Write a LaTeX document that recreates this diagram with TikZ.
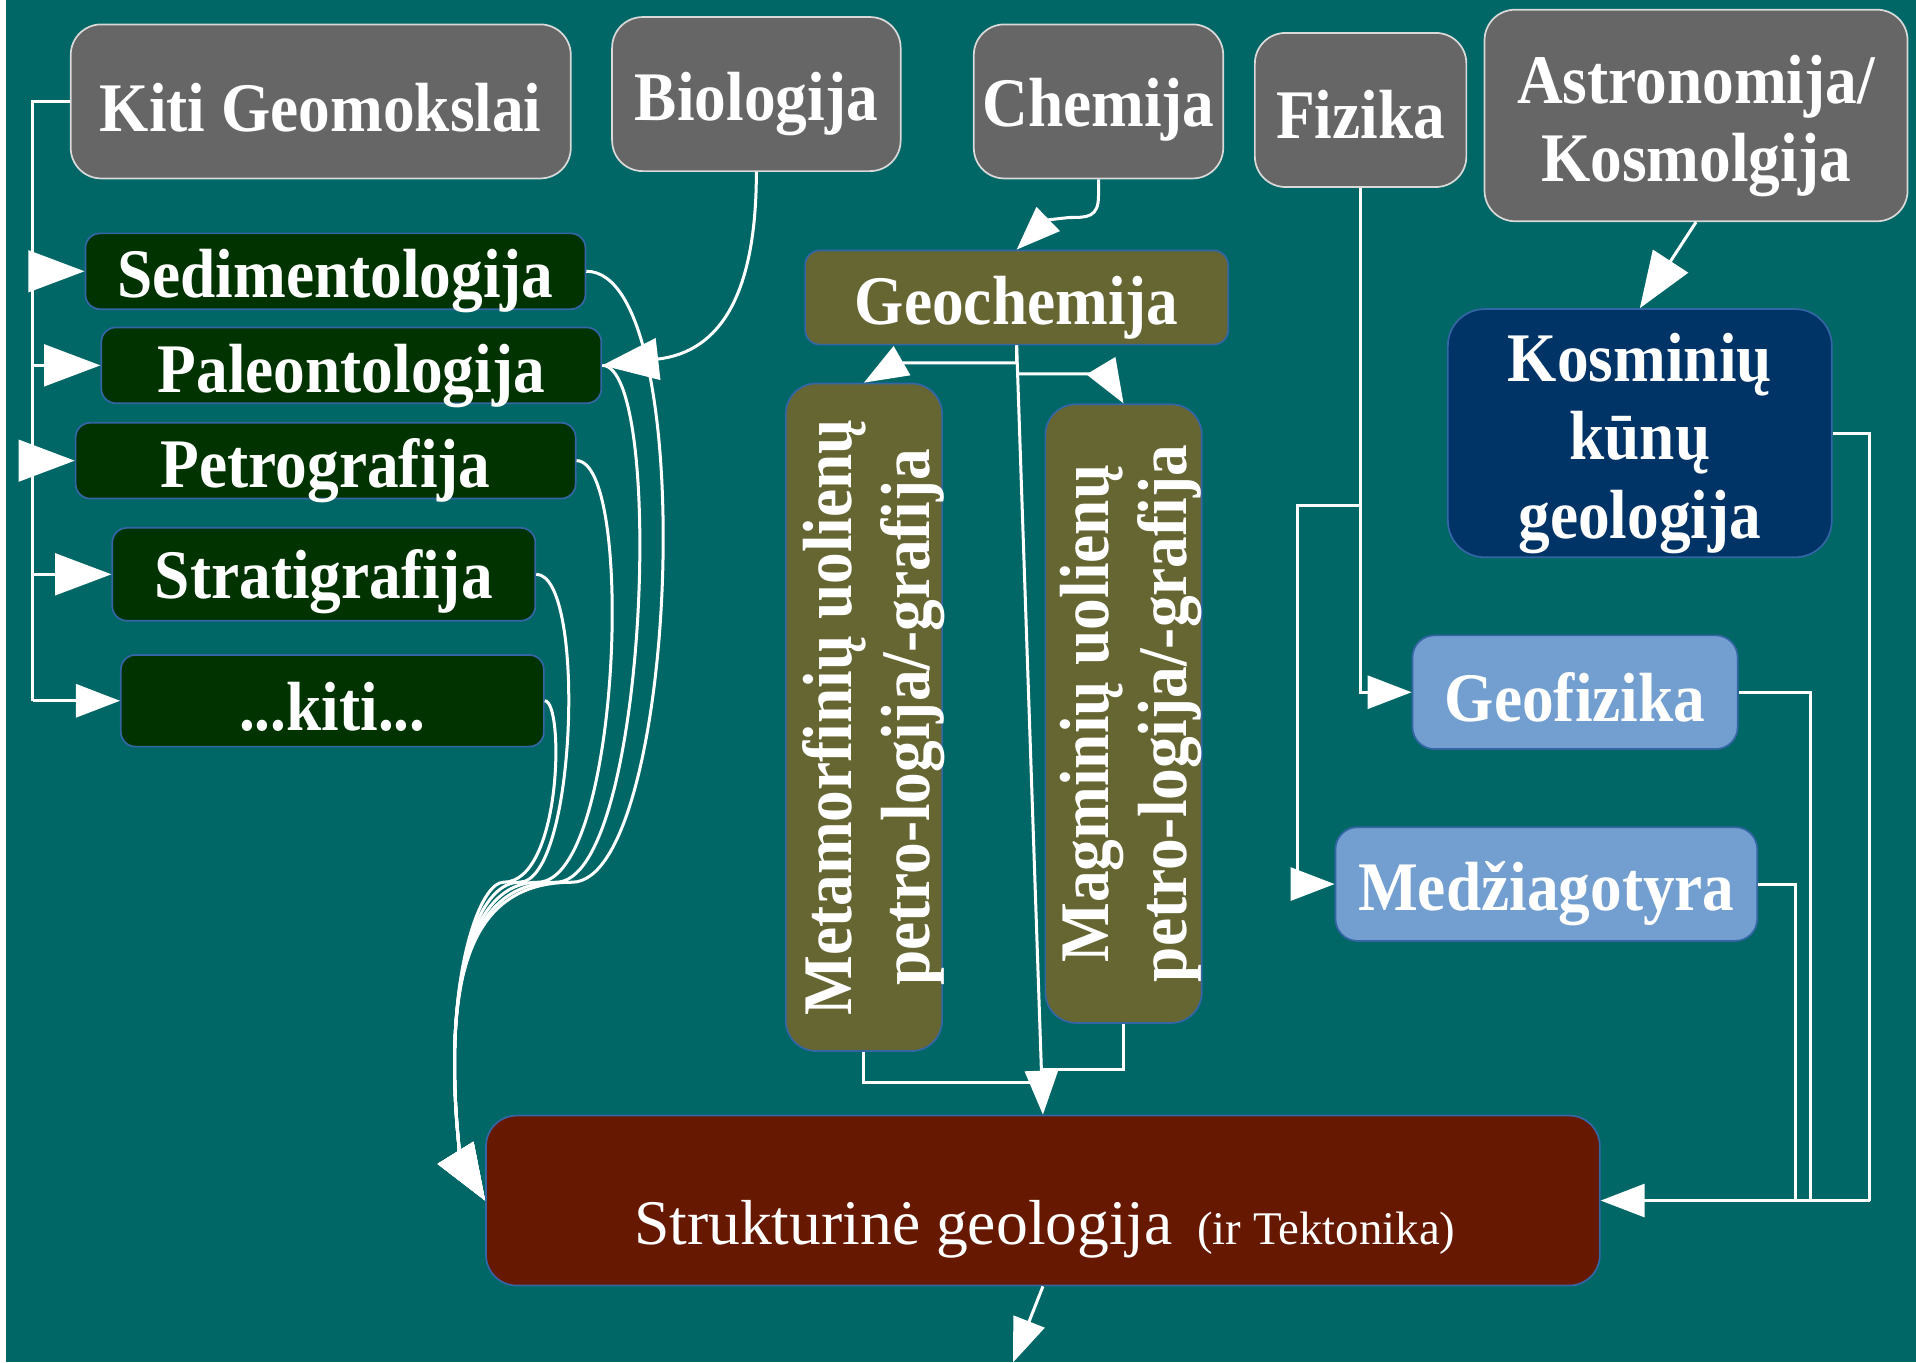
\documentclass[tikz,border=0pt]{standalone}
\usepackage{fontspec}
\setmainfont{Liberation Serif}
\newfontfamily\headfont[FakeStretch=0.91]{Liberation Serif}
\usetikzlibrary{arrows.meta}

\definecolor{bgteal}{RGB}{0,102,102}
\definecolor{boxgray}{RGB}{102,102,102}
\definecolor{boxgreen}{RGB}{0,51,0}
\definecolor{boxolive}{RGB}{102,102,51}
\definecolor{boxnavy}{RGB}{0,51,102}
\definecolor{boxblue}{RGB}{114,159,207}
\definecolor{boxred}{RGB}{102,25,0}
\definecolor{edgeblue}{RGB}{52,101,164}

% text set a little below the middle of its box
\newcommand{\lowered}[2][0.08cm]{\raisebox{-#1}[\height][\depth]{#2}}
\newcommand{\lines}[1]{\begin{tabular}{@{}c@{}}#1\end{tabular}}

\begin{document}
\begin{tikzpicture}[x=0.01cm, y=-0.01cm,
    box/.style={draw=edgeblue, line width=0.4pt, text=white, inner sep=0pt, align=center,
      font=\headfont\bfseries\fontsize{16.2}{18.2}\selectfont},
    topbox/.style={box, fill=boxgray, draw=white!85!black, rounded corners=0.25cm},
    subbox/.style={box, fill=boxgreen, rounded corners=0.12cm},
    chembox/.style={box, fill=boxolive, rounded corners=0.12cm},
    physbox/.style={box, fill=boxblue, rounded corners=0.18cm},
    wire/.style={draw=white, line width=0.7pt},
    arr/.style={wire, -{Triangle[length=0.46cm, width=0.34cm]}},
    arrs/.style={wire, -{Triangle[length=0.36cm, width=0.27cm]}}]

    % background
    \fill[white] (0,0) rectangle (1568,1115);
    \fill[bgteal] (5,0) rectangle (1568,1115);
    \useasboundingbox (0,0) rectangle (1568,1115);

    % sciences on top
    \node[topbox, minimum width=4.09cm, minimum height=1.26cm] (kiti) at (262.5,83) {\lowered[0.05cm]{Kiti Geomokslai}};
    \node[topbox, minimum width=2.36cm, minimum height=1.26cm] (bio) at (619,77) {\lowered{Biologija}};
    \node[topbox, minimum width=2.04cm, minimum height=1.26cm] (chem) at (899,83) {\lowered[0.07cm]{Chemija}};
    \node[topbox, minimum width=1.73cm, minimum height=1.26cm] (fiz) at (1113.5,90) {\lowered[0.04cm]{Fizika}};
    \node[topbox, minimum width=3.46cm, minimum height=1.73cm] (astro) at (1388,94.5)
        {\lowered[0.09cm]{\lines{Astronomija/\\Kosmolgija}}};

    % left column
    \node[subbox, minimum width=4.09cm, minimum height=0.62cm] (sed) at (274.5,222) {\lowered{Sedimentologija}};
    \node[subbox, minimum width=4.09cm, minimum height=0.62cm] (pal) at (287.5,299) {\lowered[0.09cm]{Paleontologija}};
    \node[subbox, minimum width=4.09cm, minimum height=0.62cm] (petr) at (266.5,377) {\lowered{Petrografija}};
    \node[subbox, minimum width=3.46cm, minimum height=0.76cm] (strat) at (265,470) {\lowered[0.06cm]{Stratigrafija}};
    \node[subbox, minimum width=3.46cm, minimum height=0.75cm] (kt) at (272,573.5) {\lowered[0.05cm]{...kiti...}};

    % chemistry
    \node[chembox, minimum width=3.46cm, minimum height=0.77cm] (geoch) at (832,243.5) {\lowered{Geochemija}};
    \node[chembox, rounded corners=0.25cm, minimum width=1.26cm, minimum height=5.46cm] (meta) at (707,587)
        {\rotatebox{90}{\lowered[0.09cm]{\lines{Metamorfinių uolienų\\petro-logija/-grafija}}}};
    \node[chembox, rounded corners=0.25cm, minimum width=1.25cm, minimum height=5.06cm] (mag) at (919.5,584)
        {\rotatebox{90}{\lowered[0.07cm]{\lines{Magminių uolienų\\petro-logija/-grafija}}}};

    % physics and space
    \node[box, fill=boxnavy, rounded corners=0.3cm, minimum width=3.14cm, minimum height=2.03cm] (kosm) at (1342,354.5)
        {\lowered[0.09cm]{\lines{Kosminių\\kūnų\\geologija}}};
    \node[physbox, minimum width=2.66cm, minimum height=0.93cm] (gfiz) at (1289,566.5) {\lowered[0.04cm]{Geofizika}};
    \node[physbox, minimum width=3.45cm, minimum height=0.93cm] (medz) at (1265.5,723.5) {\lowered{Medžiagotyra}};

    % structural geology
    \node[box, fill=boxred, rounded corners=0.25cm, minimum width=9.11cm, minimum height=1.39cm] (strk) at (853.5,982.5) {};
    \node[text=white, font=\fontsize{14.8}{17}\selectfont] (strktxt) at (855,1006)
        {Strukturinė geologija\hspace{0.2cm}{\fontsize{10.9}{13}\selectfont (ir Tektonika)}};

    % Kiti Geomokslai tree
    \coordinate (t0) at (27,83);
    \coordinate (t1) at (27,222);
    \coordinate (t2) at (27,299);
    \coordinate (t3) at (27,377);
    \coordinate (t4) at (27,470);
    \coordinate (t5) at (27,573.5);
    \draw[wire] (kiti.west) -- (t0) -- (t5);
    \draw[arr] (t1) -- (sed.west);
    \draw[arr] (t2) -- (pal.west);
    \draw[arr] (t3) -- (petr.west);
    \draw[arr] (t4) -- (strat.west);
    \draw[arrs] (t5) -- (kt.west);

    \draw[arr] (bio.south) .. controls (619,240) and (590,288) .. (pal.east);

    % bundle into structural geology
    \draw[arr] (sed.east) .. controls (575,222) and (555,722) .. (468,722)
        .. controls (395,722) and (372,780) .. (372,870) .. controls (372,930) and (380,955) .. (strk.west);
    \draw[arr] (pal.east) .. controls (545,299) and (530,722) .. (455,722)
        .. controls (395,722) and (372,780) .. (372,870) .. controls (372,930) and (380,955) .. (strk.west);
    \draw[arr] (petr.east) .. controls (520,377) and (508,722) .. (440,722)
        .. controls (395,722) and (372,780) .. (372,870) .. controls (372,930) and (380,955) .. (strk.west);
    \draw[arr] (strat.east) .. controls (480,470) and (472,722) .. (425,722)
        .. controls (395,722) and (372,780) .. (372,870) .. controls (372,930) and (380,955) .. (strk.west);
    \draw[arr] (kt.east) .. controls (462,573.5) and (460,722) .. (412,722)
        .. controls (395,722) and (372,780) .. (372,870) .. controls (372,930) and (380,955) .. (strk.west);

    % chemistry links
    \draw[arrs] (chem.south) -- (899,160) .. controls (899,178) and (890,178) .. (875,178) -- (857,180) -- (geoch.north);
    \draw[arrs] (geoch.south) -- (832,297) -- (735,297) -- (meta.north);
    \draw[arrs] (832.7,306) -- (905,306) -- (mag.north);
    \draw[arrs] (geoch.south) -- (strk.north);
    \draw[wire] (meta.south) -- (707,886) -- (852,886);
    \draw[wire] (mag.south) -- (919.5,875) -- (852,875);

    % physics links
    \draw[arrs] (fiz.south) -- (1113.5,566.5) -- (gfiz.west);
    \draw[arrs] (1113.5,414) -- (1062,414) -- (1062,723.5) -- (medz.west);
    \draw[arr] (astro.south) -- (kosm.north);

    % right side into structural geology
    \coordinate (r0) at (1530,982.5);
    \draw[wire] (kosm.east) -- (1530,354.5) -- (r0);
    \draw[wire] (gfiz.east) -- (1482,566.5) -- (1482,982.5);
    \draw[wire] (medz.east) -- (1469,723.5) -- (1469,982.5);
    \draw[arrs] (r0) -- (strk.east);

    % leaving downwards
    \coordinate (down) at (829,1115);
    \draw[arrs] (strk.south) -- (down);
\end{tikzpicture}
\end{document}
